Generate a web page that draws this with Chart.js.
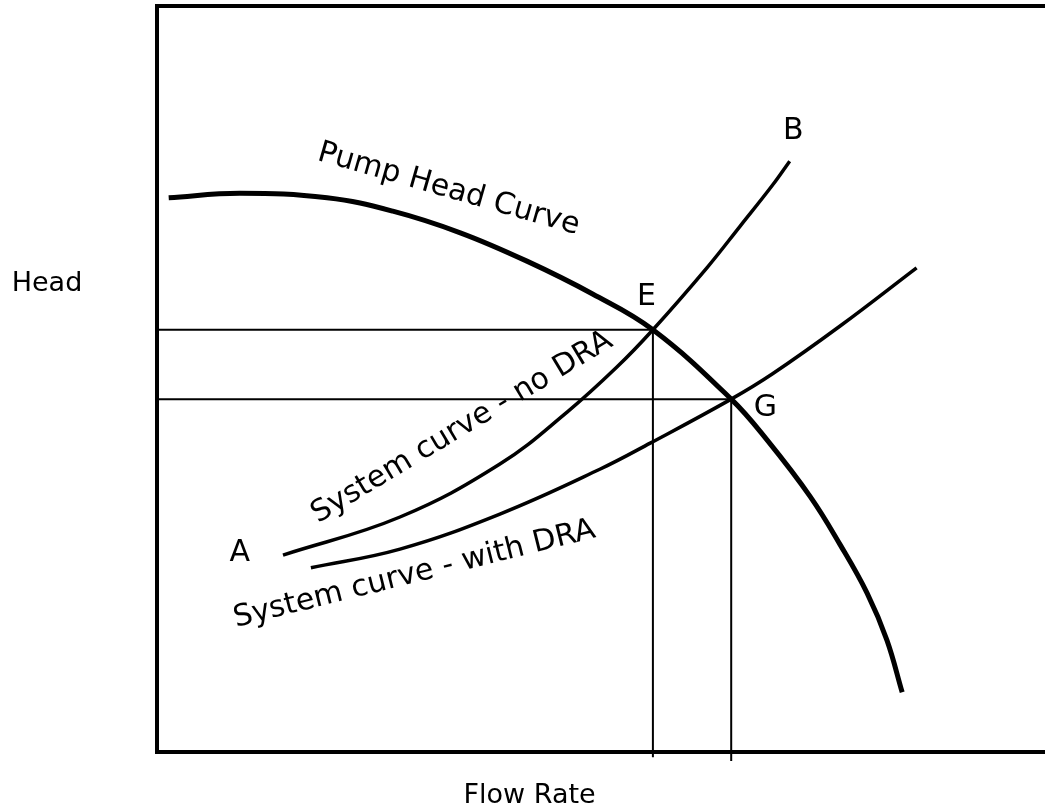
<!DOCTYPE html>
<html>
<head>
<meta charset="utf-8">
<script src="https://cdn.jsdelivr.net/npm/chart.js@4/dist/chart.umd.min.js"></script>
<style>
  html, body { margin: 0; padding: 0; background: #fff; overflow: hidden; }
  #wrap { width: 1057px; height: 811px; }
</style>
</head>
<body>
<div id="wrap"><canvas id="pumpChart"></canvas></div>
<script>
// Flow (x) / head (y) in arbitrary units, 0..100
const pumpFlow = [1.3, 9.2, 18.9, 26.2, 33.7, 41.1, 48.4, 55.1, 63.8, 67.8, 72.6, 75.9, 78.9, 81.1, 82.8];
const pumpHead = [74.3, 74.9, 74.3, 72.5, 69.6, 65.8, 61.4, 56.6, 47.3, 41.8, 34.2, 27.8, 21.3, 15.0, 8.0];

const noDraFlow = [14.0, 27.0, 38.1, 45.6, 51.1, 55.1, 61.1, 64.8, 68.4, 70.3];
const noDraHead = [26.4, 31.5, 38.6, 45.6, 51.6, 56.6, 64.9, 70.5, 76.0, 79.2];

const draFlow = [17.1, 27.0, 38.1, 49.2, 54.8, 63.8, 68.4, 75.9, 84.4];
const draHead = [24.7, 27.2, 31.9, 37.9, 41.4, 47.3, 50.7, 57.1, 64.9];

// operating points E and G, with how far the drop line runs below the axis
const opNames = ['E', 'G'];
const opFlow = [55.1, 63.8];
const opHead = [56.6, 47.3];
const opDrop = [-0.7, -1.2];

// free text: [text, x, y, angle deg]
const pointLabels = [['E', 54.4, 61.0, 0], ['G', 67.6, 46.1, 0], ['B', 70.7, 83.2, 0], ['A', 9.2, 26.7, 0]];
const curveLabels = [['Pump Head Curve', 32.4, 75.4, 16], ['System curve - no DRA', 33.9, 43.5, -31], ['System curve - with DRA', 28.6, 23.8, -14]];
const xTitle = ['Flow Rate', 41.4];
const yTitle = ['Head', 62.7];

const LABEL_FONT = '30px "DejaVu Sans", Verdana, sans-serif';
const TITLE_FONT = '27px "DejaVu Sans", Verdana, sans-serif';
const zip = (xs, ys) => xs.map((x, i) => ({ x, y: ys[i] }));

const datasets = [];
opFlow.forEach((fx, i) => {
    datasets.push({ data: [{ x: 0, y: opHead[i] }, { x: fx, y: opHead[i] }], borderColor: '#000', borderWidth: 2 });
    datasets.push({ data: [{ x: fx, y: opHead[i] }, { x: fx, y: opDrop[i] }], borderColor: '#000', borderWidth: 2, clip: false });
});
datasets.push({ data: zip(noDraFlow, noDraHead), borderColor: '#000', borderWidth: 3.5, tension: 0.4 });
datasets.push({ data: zip(draFlow, draHead), borderColor: '#000', borderWidth: 3.5, tension: 0.4 });
datasets.push({ data: zip(pumpFlow, pumpHead), borderColor: '#000', borderWidth: 5, tension: 0.4 });

const textPlugin = {
    id: 'texts',
    afterDraw(chart) {
        const { ctx, scales: { x, y }, chartArea } = chart;
        ctx.save();
        ctx.fillStyle = '#000';
        ctx.font = LABEL_FONT;
        ctx.textAlign = 'center';
        ctx.textBaseline = 'middle';
        [...pointLabels, ...curveLabels].forEach(([t, dx, dy, a]) => {
            ctx.save();
            ctx.translate(x.getPixelForValue(dx), y.getPixelForValue(dy));
            ctx.rotate(a * Math.PI / 180);
            ctx.fillText(t, 0, 0);
            ctx.restore();
        });
        ctx.font = TITLE_FONT;
        ctx.fillText(xTitle[0], x.getPixelForValue(xTitle[1]), chartArea.bottom + 44);
        ctx.fillText(yTitle[0], chartArea.left - 110, y.getPixelForValue(yTitle[1]));
        ctx.restore();
    }
};

const axisBase = {
    type: 'linear', min: 0, max: 100,
    ticks: { display: false },
    grid: { display: false, drawTicks: false },
    border: { display: true, color: '#000', width: 4 }
};

new Chart(document.getElementById('pumpChart'), {
    type: 'scatter',
    data: { datasets: datasets.map(d => ({ showLine: true, pointRadius: 0, fill: false, ...d })) },
    options: {
        responsive: true,
        maintainAspectRatio: false,
        animation: false,
        events: [],
        layout: { padding: { left: 157, top: 6, bottom: 59, right: 0 } },
        plugins: { legend: { display: false }, tooltip: { enabled: false } },
        scales: {
            x: { ...axisBase, position: 'bottom' },
            xTop: { ...axisBase, position: 'top' },
            y: { ...axisBase, position: 'left' }
        }
    },
    plugins: [textPlugin]
});
</script>
</body>
</html>
